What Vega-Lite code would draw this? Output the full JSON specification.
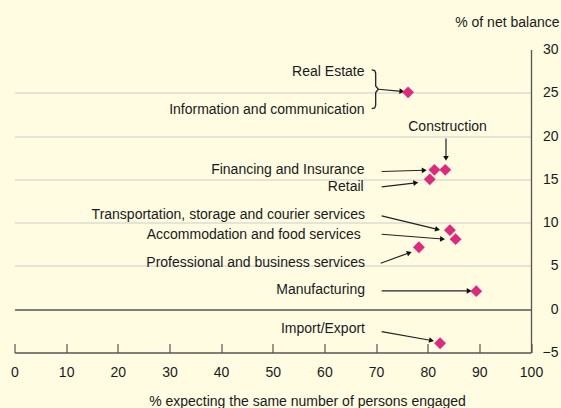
{
  "$schema": "https://vega.github.io/schema/vega-lite/v6.json",
  "autosize": "none",
  "width": 516.5,
  "height": 303,
  "padding": {"left": 14.5, "top": 49.5, "right": 30, "bottom": 55.5},
  "background": "#FFFCE2",
  "config": {
    "view": {"stroke": null},
    "font": "Liberation Sans",
    "text": {"font": "Liberation Sans", "fontSize": 14, "color": "#1a1a1a"}
  },
  "datasets": {
    "points": [
      {"sector": "Real Estate / Information and communication", "x": 76.2, "y": 25.05},
      {"sector": "Construction", "x": 83.4, "y": 16.1},
      {"sector": "Financing and Insurance", "x": 81.3, "y": 16.1},
      {"sector": "Retail", "x": 80.4, "y": 15.0},
      {"sector": "Transportation, storage and courier services", "x": 84.3, "y": 9.13},
      {"sector": "Accommodation and food services", "x": 85.4, "y": 8.09},
      {"sector": "Professional and business services", "x": 78.3, "y": 7.16},
      {"sector": "Manufacturing", "x": 89.4, "y": 2.08},
      {"sector": "Import/Export", "x": 82.4, "y": -3.93}
    ],
    "labels": [
      {"label": "Real Estate", "x": 67.76, "y": 27.4},
      {"label": "Information and communication", "x": 67.76, "y": 23.05},
      {"label": "Financing and Insurance", "x": 67.76, "y": 16.05},
      {"label": "Retail", "x": 67.6, "y": 14.08},
      {"label": "Transportation, storage and courier services", "x": 67.86, "y": 10.85},
      {"label": "Accommodation and food services", "x": 67.03, "y": 8.6},
      {"label": "Professional and business services", "x": 67.86, "y": 5.33},
      {"label": "Manufacturing", "x": 67.86, "y": 2.25},
      {"label": "Import/Export", "x": 67.86, "y": -2.25}
    ],
    "centerlabels": [
      {"label": "Construction", "x": 83.84, "y": 21.1}
    ],
    "arrows": [
      {"sector": "Real Estate / Information and communication", "sx": 70.44, "sy": 25.41, "x": 75.0, "y": 25.17},
      {"sector": "Construction", "sx": 83.54, "sy": 19.72, "x": 83.54, "y": 17.42},
      {"sector": "Financing and Insurance", "sx": 71.09, "sy": 15.91, "x": 79.33, "y": 16.05},
      {"sector": "Retail", "sx": 71.09, "sy": 14.13, "x": 77.7, "y": 14.6},
      {"sector": "Transportation, storage and courier services", "sx": 71.09, "sy": 10.78, "x": 81.91, "y": 9.23},
      {"sector": "Accommodation and food services", "sx": 71.09, "sy": 8.66, "x": 82.87, "y": 8.11},
      {"sector": "Professional and business services", "sx": 70.9, "sy": 5.31, "x": 76.45, "y": 6.52},
      {"sector": "Manufacturing", "sx": 71.09, "sy": 2.11, "x": 88.04, "y": 2.11},
      {"sector": "Import/Export", "sx": 71.09, "sy": -2.58, "x": 80.74, "y": -3.61}
    ],
    "brace": [
      {"i": 1, "x": 69.16, "y": 27.64},
      {"i": 2, "x": 69.74, "y": 27.57},
      {"i": 3, "x": 69.93, "y": 27.26},
      {"i": 4, "x": 69.93, "y": 25.79},
      {"i": 5, "x": 70.44, "y": 25.41},
      {"i": 6, "x": 69.93, "y": 25.03},
      {"i": 7, "x": 69.93, "y": 23.56},
      {"i": 8, "x": 69.74, "y": 23.25},
      {"i": 9, "x": 69.16, "y": 23.18}
    ]
  },
  "encoding": {
    "x": {
      "field": "x", "type": "quantitative",
      "scale": {"domain": [0, 100], "nice": false, "zero": false},
      "axis": {
        "title": "% expecting the same number of persons engaged",
        "values": [0, 10, 20, 30, 40, 50, 60, 70, 80, 90, 100],
        "grid": false,
        "domainColor": "#555", "domainWidth": 1.3,
        "tickColor": "#555", "tickWidth": 1.2, "tickSize": -9,
        "labelFlush": false,
        "labelFont": "Liberation Sans", "labelFontSize": 14, "labelColor": "#1a1a1a",
        "labelBaseline": "middle", "labelPadding": 29,
        "titleFont": "Liberation Sans", "titleFontSize": 14, "titleFontWeight": "normal", "titleColor": "#1a1a1a",
        "titleX": 292.5, "titleY": 48.5, "titleAlign": "center", "titleBaseline": "middle"
      }
    },
    "y": {
      "field": "y", "type": "quantitative",
      "scale": {"domain": [-5, 30], "nice": false, "zero": false},
      "axis": {
        "orient": "right",
        "title": "% of net balance",
        "values": [-5, 0, 5, 10, 15, 20, 25, 30],
        "ticks": false,
        "domainColor": "#555", "domainWidth": 1.3,
        "grid": true,
        "gridColor": {"condition": {"test": "datum.value == 0", "value": "#555"}, "value": "#dcdcd2"},
        "gridWidth": {"condition": {"test": "datum.value == 0", "value": 1.6}, "value": 1.3},
        "gridOpacity": {"condition": {"test": "datum.value == 30 || datum.value == -5", "value": 0}, "value": 1},
        "labelFlush": false,
        "labelFont": "Liberation Sans", "labelFontSize": 14, "labelColor": "#1a1a1a",
        "labelAlign": "right", "labelBaseline": "middle", "labelPadding": 27,
        "titleFont": "Liberation Sans", "titleFontSize": 14, "titleFontWeight": "normal", "titleColor": "#1a1a1a",
        "titleAngle": 0, "titleX": 28, "titleY": -27, "titleAlign": "right", "titleBaseline": "middle"
      }
    }
  },
  "layer": [
    {
      "data": {"name": "brace"},
      "mark": {"type": "line", "color": "#222", "strokeWidth": 1.3, "interpolate": "linear"},
      "encoding": {"order": {"field": "i", "type": "quantitative"}}
    },
    {
      "data": {"name": "arrows"},
      "mark": {"type": "rule", "color": "#222", "strokeWidth": 1.2},
      "encoding": {
        "x2": {"field": "sx"},
        "y2": {"field": "sy"}
      }
    },
    {
      "data": {"name": "arrows"},
      "transform": [
        {"calculate": "atan2(-(datum.y - datum.sy) * 8.657, (datum.x - datum.sx) * 5.165) * 180 / PI", "as": "angle"}
      ],
      "mark": {"type": "point", "shape": "triangle-right", "filled": true, "color": "#111", "size": 32, "opacity": 1},
      "encoding": {
        "angle": {"field": "angle", "type": "quantitative", "scale": null}
      }
    },
    {
      "data": {"name": "points"},
      "mark": {"type": "point", "shape": "diamond", "filled": true, "color": "#E0297D", "size": 140, "opacity": 1}
    },
    {
      "data": {"name": "labels"},
      "mark": {"type": "text", "align": "right", "baseline": "middle", "fontSize": 14, "font": "Liberation Sans", "color": "#1a1a1a"},
      "encoding": {"text": {"field": "label"}}
    },
    {
      "data": {"name": "centerlabels"},
      "mark": {"type": "text", "align": "center", "baseline": "middle", "fontSize": 14, "font": "Liberation Sans", "color": "#1a1a1a"},
      "encoding": {"text": {"field": "label"}}
    }
  ]
}
